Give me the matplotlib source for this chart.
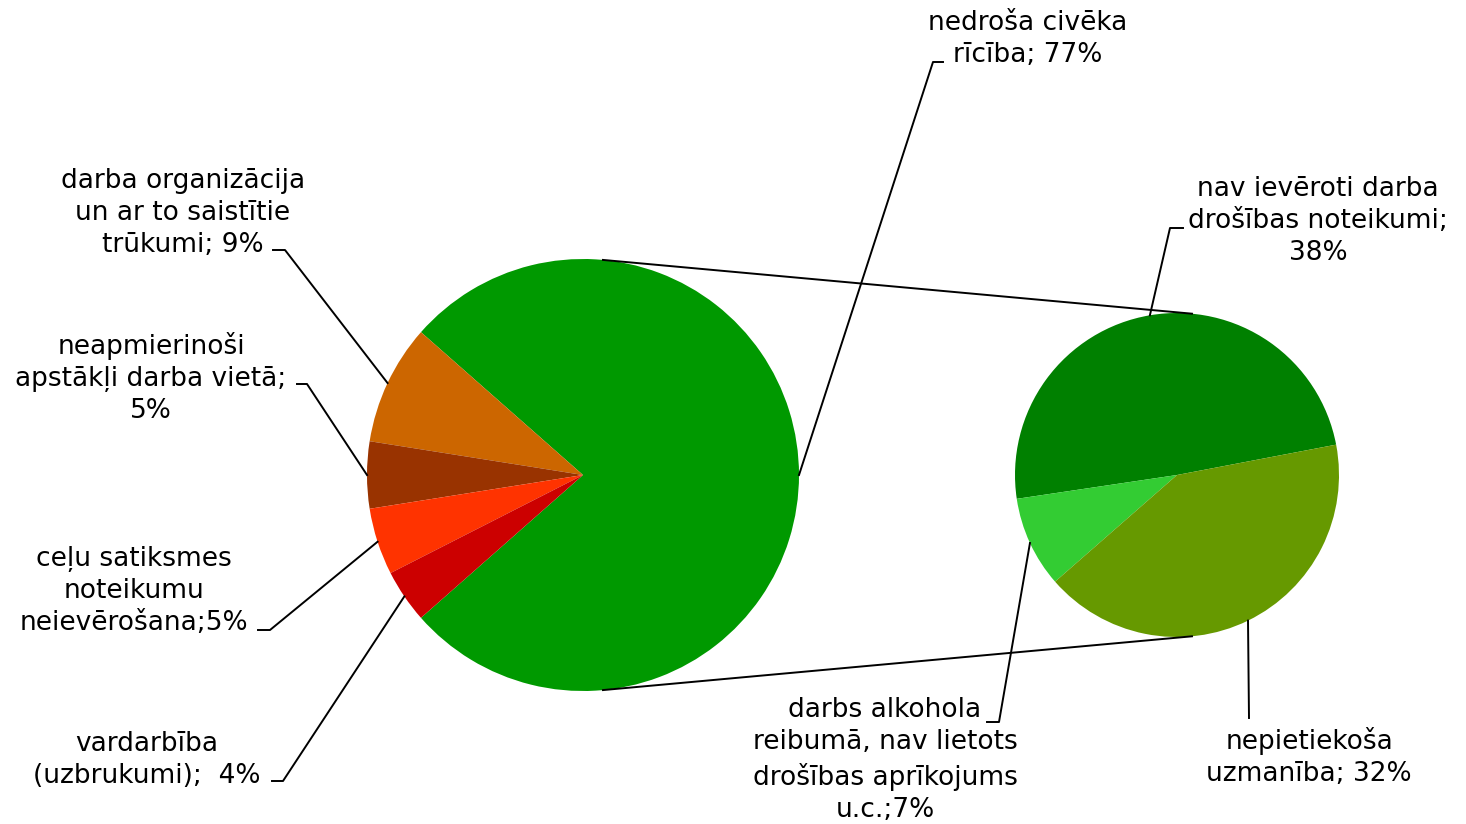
import numpy as np
import matplotlib
matplotlib.use("Agg")
import matplotlib.pyplot as plt

# main pie
main_labels = ["nedroša civēka\nrīcība; 77%",
               "darba organizācija\nun ar to saistītie\ntrūkumi; 9%",
               "neapmierinoši\napstākļi darba vietā;\n5%",
               "ceļu satiksmes\nnoteikumu\nneievērošana;5%",
               "vardarbība\n(uzbrukumi);  4%"]
main_values = [77, 9, 5, 5, 4]
main_colors = ["#009900", "#CC6600", "#993300", "#FF3300", "#CC0000"]

# secondary pie (breakdown of the 77%)
sub_labels = ["nav ievēroti darba\ndrošības noteikumi;\n38%",
              "darbs alkohola\nreibumā, nav lietots\ndrošības aprīkojums\nu.c.;7%",
              "nepietiekoša\nuzmanība; 32%"]
sub_values = [38, 7, 32]
sub_colors = ["#008000", "#33CC33", "#669900"]

W, H = 1466, 824


def py(y):
    # pixel row -> data y
    return H - y


fig = plt.figure(figsize=(W / 100, H / 100), dpi=100)
ax = fig.add_axes([0, 0, 1, 1])

c1, r1 = (583, py(475)), 216
c2, r2 = (1177, py(475)), 162

start1 = -main_values[0] / sum(main_values) * 360 / 2
w1, _ = ax.pie(main_values, colors=main_colors, center=c1, radius=r1,
               startangle=start1, counterclock=True, frame=True,
               wedgeprops=dict(linewidth=0))
start2 = 10.8
w2, _ = ax.pie(sub_values, colors=sub_colors, center=c2, radius=r2,
               startangle=start2, counterclock=True, frame=True,
               wedgeprops=dict(linewidth=0))
ax.set_xlim(0, W)
ax.set_ylim(0, H)
ax.set_aspect("equal")
ax.axis("off")

# connector lines between the pies
a = np.radians(84.7)
for s in (1, -1):
    ax.plot([c1[0] + r1 * np.cos(a), c2[0] + r2 * np.cos(a)],
            [c1[1] + s * r1 * np.sin(a), c2[1] + s * r2 * np.sin(a)],
            color="black", lw=1.4)

# label layout: text centre, elbow, end of short horizontal tick
main_layout = [((1028, 39), (933, 62), (943, 62)),
               ((183, 213), (285, 250), (273, 250)),
               ((151, 378), (307, 384), (297, 384)),
               ((134, 591), (270, 630), (258, 630)),
               ((147, 760), (283, 781), (272, 781))]
sub_layout = [((1318, 221), (1170, 228), (1183, 228)),
              ((885, 760), (999, 722), (987, 722)),
              ((1309, 757), (1249, 718), None)]


def label(wedges, center, radius, labels, layout):
    for w, text, (tpos, elbow, tick) in zip(wedges, labels, layout):
        mid = np.radians((w.theta1 + w.theta2) / 2)
        px = center[0] + radius * np.cos(mid)
        pyy = center[1] + radius * np.sin(mid)
        xs = [px, elbow[0]]
        ys = [pyy, py(elbow[1])]
        if tick is not None:
            xs.append(tick[0])
            ys.append(py(tick[1]))
        ax.plot(xs, ys, color="black", lw=1.4)
        ax.text(tpos[0], py(tpos[1]), text, ha="center", va="center",
                multialignment="center", fontsize=19, linespacing=1.32,
                family="DejaVu Sans", color="black")


label(w1, c1, r1, main_labels, main_layout)
label(w2, c2, r2, sub_labels, sub_layout)

fig.savefig("out.png", dpi=100, facecolor="white")
